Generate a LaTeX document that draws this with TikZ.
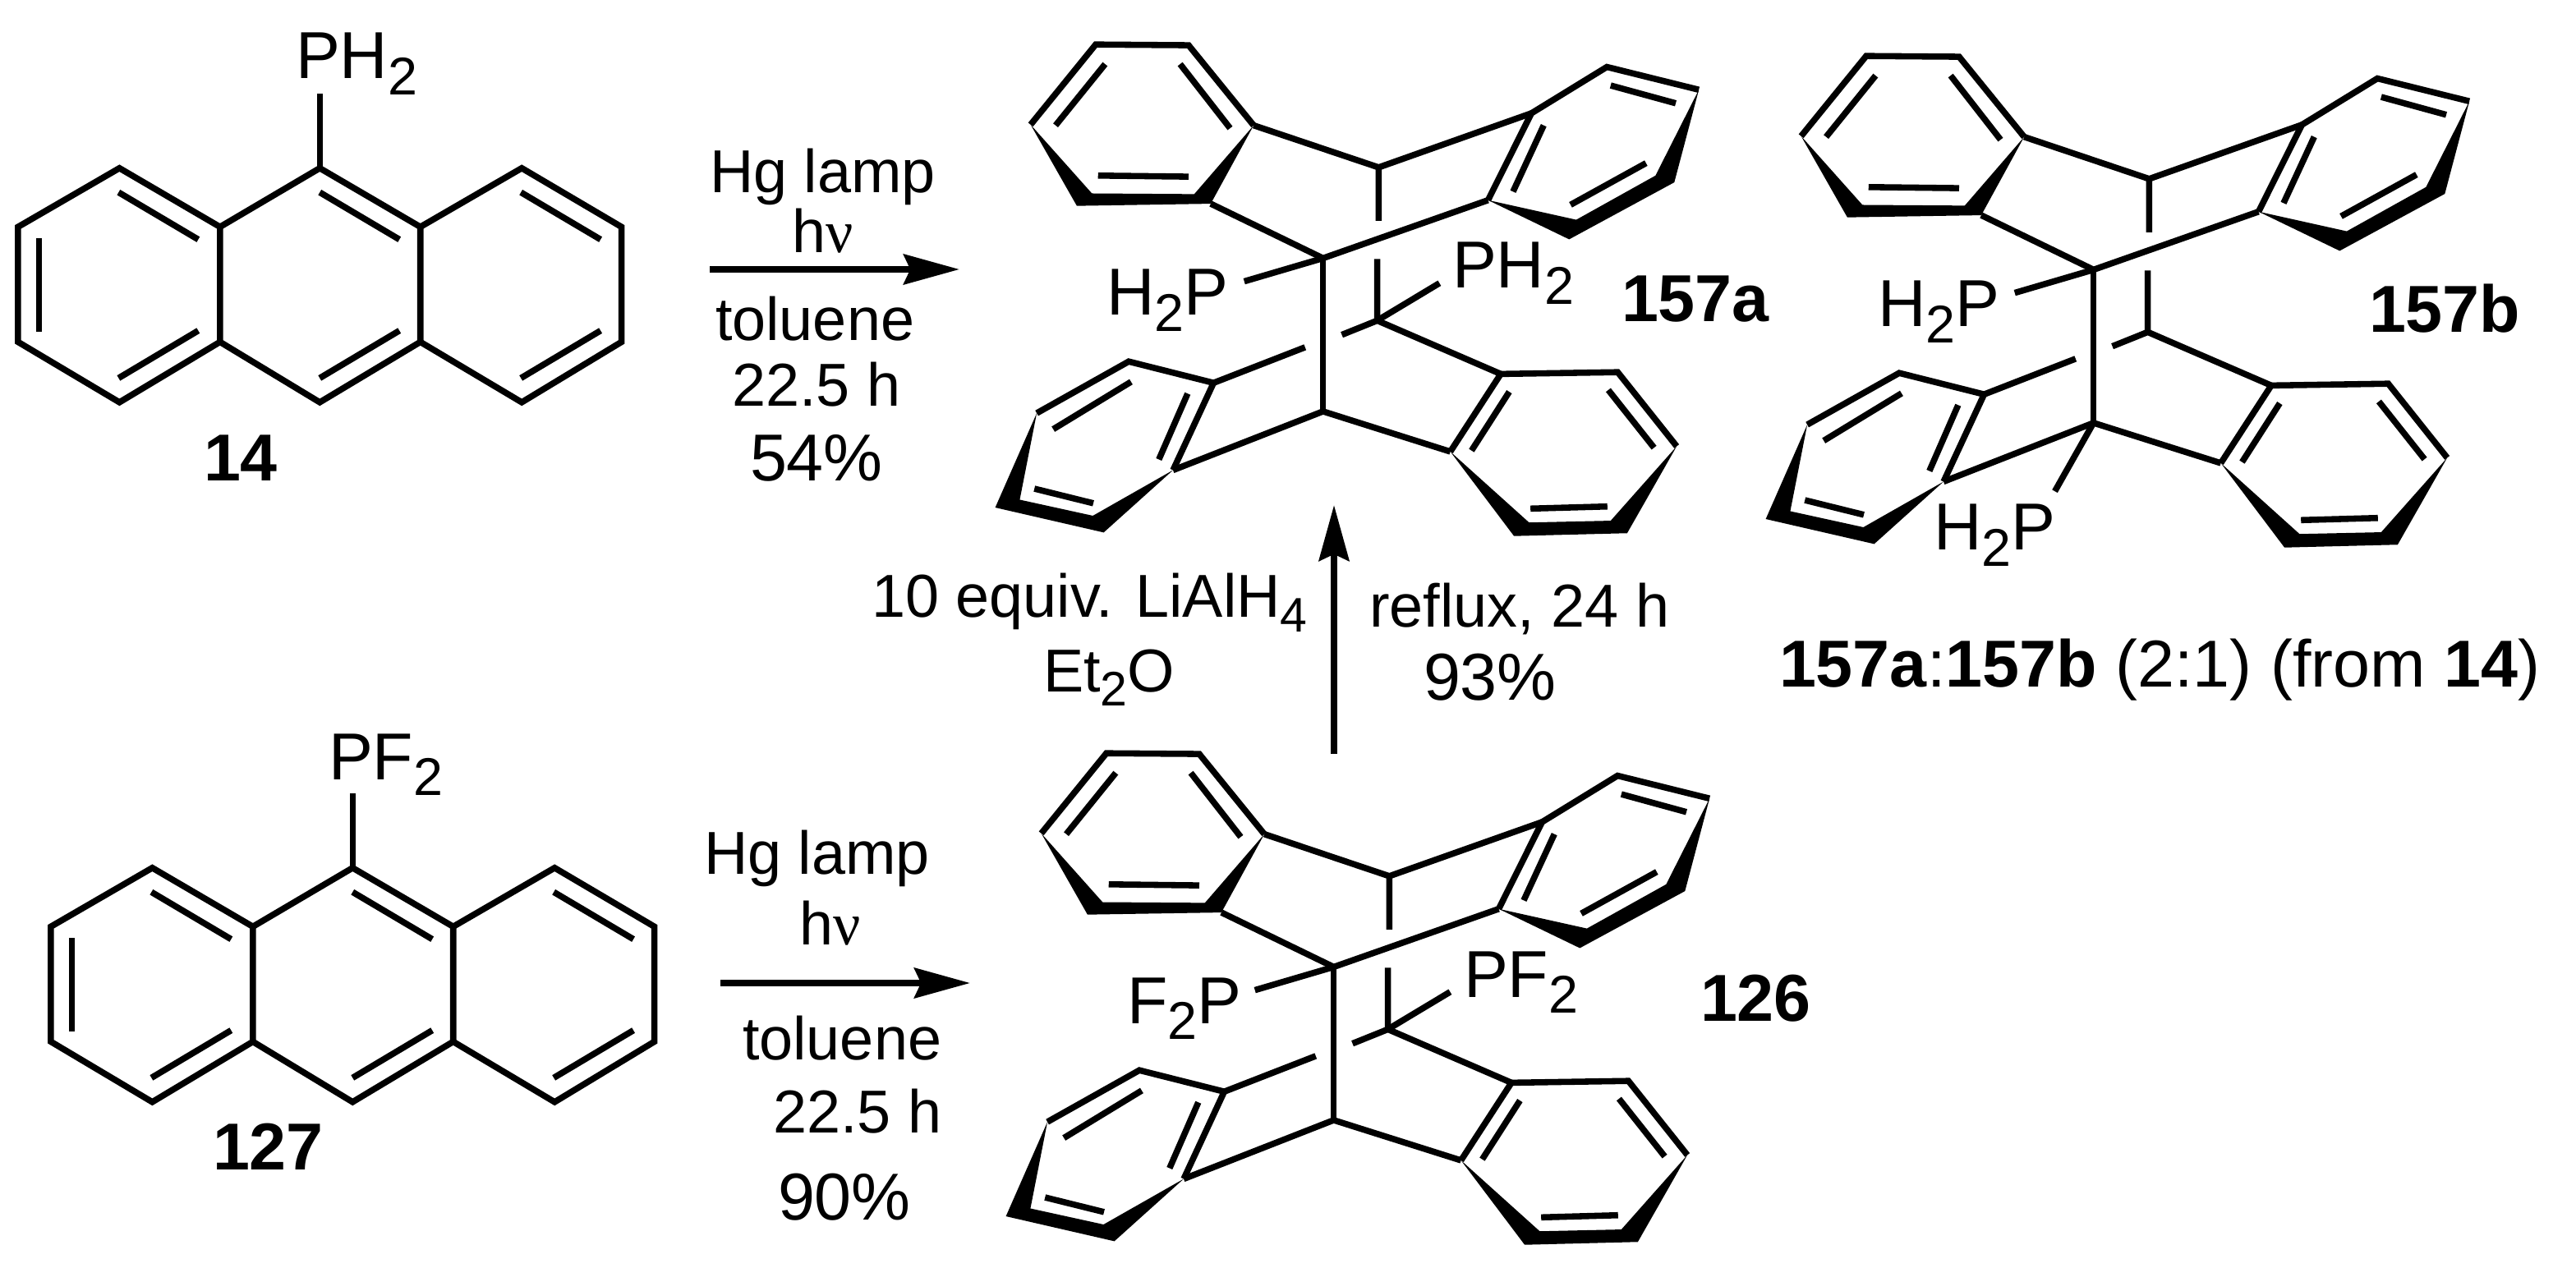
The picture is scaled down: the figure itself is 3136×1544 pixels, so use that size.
\documentclass[tikz,border=0pt]{standalone}
\usepackage{fontspec}
\setmainfont{Liberation Sans}
\newfontfamily\nufont{Liberation Serif}
\usetikzlibrary{arrows.meta}

\newcommand{\lowsub}[1]{\raisebox{-0.24em}{\scalebox{0.8}{#1}}}

% anthracene, drawn in the units of its crop
\newcommand{\anthracene}{
  \begin{scope}[xscale=0.5102,yscale=0.3827]
    \coordinate (peak) at (763,535);
    \coordinate (subst) at (763,298);
    \draw[bond] (43,722) -- (285,535) -- (525,722) -- (525,1088) -- (285,1280) -- (43,1088) -- cycle;
    \draw[bond] (525,722) -- (peak) -- (1003,722) -- (1003,1088) -- (763,1280) -- (525,1088);
    \draw[bond] (1003,722) -- (1245,535) -- (1483,722) -- (1483,1088) -- (1245,1280) -- (1003,1088);
    \draw[bond] (93,758) -- (93,1055);
    \draw[bond] (283,612) -- (473,762);
    \draw[bond] (283,1203) -- (473,1052);
    \draw[bond] (763,612) -- (953,762);
    \draw[bond] (763,1203) -- (953,1052);
    \draw[bond] (1243,612) -- (1433,762);
    \draw[bond] (1243,1203) -- (1433,1052);
    \draw[bond] (peak) -- (subst);
  \end{scope}
}

% photodimer cage
\newcommand{\cage}{
  \begin{scope}[shift={(1180,0)},xscale=0.5741,yscale=0.4337]
    \coordinate (top) at (868,470);
    \coordinate (front) at (750,725);
    \coordinate (bottom) at (750,1155);
    \coordinate (back) at (865,900);
    \coordinate (frontsub) at (583,790);
    \coordinate (backsub) at (997,795);
    \coordinate (bottomsub) at (668,1347);
    % upper left ring
    \fill (130,350) -- (260,543) -- (477,545) -- (603,352) -- (512,572) -- (228,578) -- cycle;
    \draw[bond] (130,350) -- (268,125) -- (465,127) -- (603,352);
    \draw[bond] (288,180) -- (183,352);
    \draw[bond] (447,180) -- (553,360);
    \draw[bond] (273,493) -- (465,496);
    % upper right ring
    \fill (1547,252) -- (1455,493) -- (1287,617) -- (1100,562) -- (1272,672) -- (1495,512) -- cycle;
    \draw[bond] (1100,562) -- (1192,318) -- (1352,188) -- (1547,252);
    \draw[bond] (1218,352) -- (1153,538);
    \draw[bond] (1360,240) -- (1498,290);
    \draw[bond] (1435,458) -- (1275,575);
    % lower left ring
    \fill (143,1160) -- (107,1403) -- (262,1448) -- (432,1320) -- (285,1495) -- (55,1425) -- cycle;
    \draw[bond] (143,1160) -- (338,1015) -- (518,1075) -- (432,1320);
    \draw[bond] (343,1072) -- (178,1205);
    \draw[bond] (463,1105) -- (402,1290);
    \draw[bond] (138,1372) -- (263,1413);
    % lower right ring
    \fill (1500,1253) -- (1360,1462) -- (1187,1467) -- (1020,1268) -- (1155,1505) -- (1395,1497) -- cycle;
    \draw[bond] (1020,1268) -- (1127,1050) -- (1375,1045) -- (1500,1253);
    \draw[bond] (1145,1100) -- (1065,1265);
    \draw[bond] (1355,1095) -- (1452,1257);
    \draw[bond] (1190,1428) -- (1353,1422);
    % bridges
    \draw[bond] (603,352) -- (top) -- (1192,318);
    \draw[bond] (top) -- (868,620);
    \draw[bond] (512,572) -- (front) -- (1100,562);
    \draw[bond] (front) -- (bottom);
    \draw[bond] (432,1320) -- (bottom) -- (1020,1268);
    \draw[bond] (865,727) -- (back);
    \draw[bond] (790,940) -- (back) -- (1127,1050);
    \draw[bond] (518,1075) -- (712,975);
  \end{scope}
}

\begin{document}
\begin{tikzpicture}[
    x=0.1mm, y=-0.1mm,
    bond/.style={line width=2.15pt},
    rxn/.style={line width=2.3pt, -{Stealth[length=19.3pt, width=10.4pt, inset=2.3pt]}},
    atomlabel/.style={anchor=base west, inner sep=0pt, outer sep=0pt, font=\fontsize{23}{27}\selectfont},
    cpdlabel/.style={atomlabel, font=\fontsize{23}{27}\selectfont\bfseries},
    reagent/.style={anchor=base west, inner sep=0pt, outer sep=0pt, font=\fontsize{21}{25}\selectfont}
]
\useasboundingbox (0,0) rectangle (3136,1544);

% starting materials
\begin{scope}
  \anthracene
\end{scope}
\node[atomlabel] (ph2) at (360,96) {PH\lowsub{2}};
\node[cpdlabel] (c14) at (248,586) {14};

\begin{scope}[shift={(40,852)}]
  \anthracene
\end{scope}
\node[atomlabel] (pf2) at (400,949) {PF\lowsub{2}};
\node[cpdlabel] (c127) at (259,1424) {127};

% dimers
\begin{scope}
  \cage
  \draw[bond] (front) -- (frontsub);
  \draw[bond] (back) -- (backsub);
\end{scope}
\node[atomlabel] (h2pa) at (1347,384) {H\lowsub{2}P};
\node[atomlabel] (ph2a) at (1768,351) {PH\lowsub{2}};
\node[cpdlabel] (c157a) at (1974,392) {157a};

\begin{scope}[shift={(938,14)}]
  \cage
  \draw[bond] (front) -- (frontsub);
  \draw[bond] (bottom) -- (bottomsub);
\end{scope}
\node[atomlabel] (h2pb) at (2286,398) {H\lowsub{2}P};
\node[atomlabel] (h2pc) at (2354,670) {H\lowsub{2}P};
\node[cpdlabel] (c157b) at (2884,405) {157b};

\begin{scope}[shift={(13,863)}]
  \cage
  \draw[bond] (front) -- (frontsub);
  \draw[bond] (back) -- (backsub);
\end{scope}
\node[atomlabel] (f2p) at (1372,1246) {F\lowsub{2}P};
\node[atomlabel] (pf2a) at (1782,1214) {PF\lowsub{2}};
\node[cpdlabel] (c126) at (2070,1243) {126};

\node[atomlabel] (ratio) at (2166,836) {\textbf{157a}:\textbf{157b} (2:1) (from \textbf{14})};

% upper reaction
\coordinate (r1a) at (864,328);
\coordinate (r1b) at (1168,328);
\draw[rxn] (r1a) -- (r1b);
\node[reagent] (lamp1) at (864,235) {Hg lamp};
\node[reagent] (hnu1) at (964,308) {h{\nufont ν}};
\node[reagent] (tol1) at (871,415) {toluene};
\node[reagent] (time1) at (891,495) {22.5 h};
\node[atomlabel] (yield1) at (913,586) {54\%};

% lower reaction
\coordinate (r2a) at (877,1197);
\coordinate (r2b) at (1181,1197);
\draw[rxn] (r2a) -- (r2b);
\node[reagent] (lamp2) at (857,1064) {Hg lamp};
\node[reagent] (hnu2) at (973,1150) {h{\nufont ν}};
\node[reagent] (tol2) at (904,1290) {toluene};
\node[reagent] (time2) at (941,1379) {22.5 h};
\node[atomlabel] (yield2) at (947,1485) {90\%};

% reduction
\coordinate (r3a) at (1624,918);
\coordinate (r3b) at (1624,615);
\draw[rxn] (r3a) -- (r3b);
\node[reagent] (hydride) at (1061,752) {10 equiv. LiAlH\lowsub{4}};
\node[reagent] (ether) at (1270,842) {Et\lowsub{2}O};
\node[reagent] (reflux) at (1667,763) {reflux, 24 h};
\node[atomlabel] (yield3) at (1733,852) {93\%};
\end{tikzpicture}
\end{document}
